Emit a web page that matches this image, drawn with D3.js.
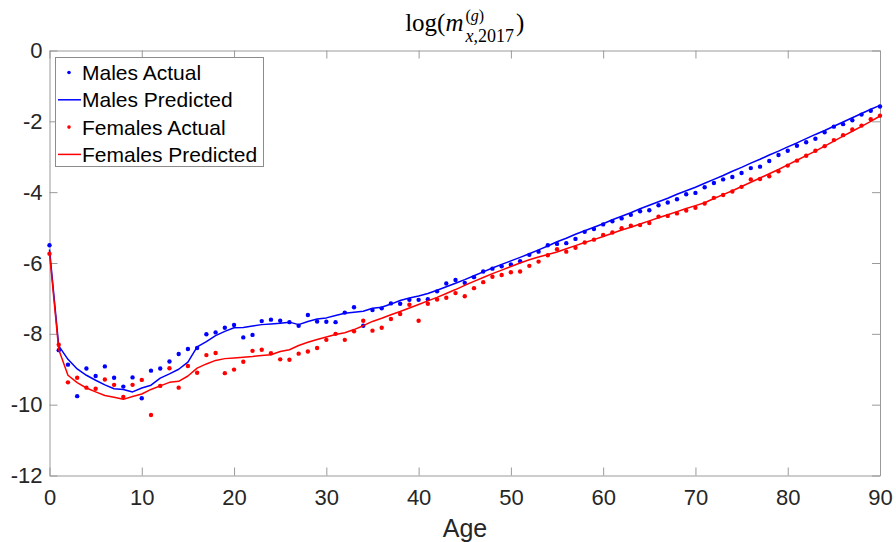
<!DOCTYPE html>
<html>
<head>
<meta charset="utf-8">
<script src="https://cdn.jsdelivr.net/npm/d3@7"></script>
<style>
  body { margin: 0; background: #fff; }
  svg text { font-family: "Liberation Sans", Arial, sans-serif; }
</style>
</head>
<body>
<div id="chart"></div>
<script>
// ages 0..90
const ages = d3.range(0, 91);

const malesActual = [
  -5.50, -8.46, -8.87, -9.76, -8.98, -9.19, -8.92, -9.24, -9.49, -9.23,
  -9.82, -9.04, -8.98, -8.78, -8.57, -8.43, -8.40, -8.01, -7.96, -7.83,
  -7.75, -8.10, -8.03, -7.64, -7.60, -7.63, -7.67, -7.77, -7.47, -7.65,
  -7.66, -7.67, -7.40, -7.25, -7.77, -7.33, -7.28, -7.14, -7.15, -7.04,
  -7.04, -7.02, -6.80, -6.58, -6.48, -6.56, -6.40, -6.24, -6.16, -6.09,
  -6.04, -5.95, -5.77, -5.68, -5.50, -5.46, -5.44, -5.32, -5.12, -5.04,
  -4.91, -4.82, -4.74, -4.64, -4.54, -4.51, -4.37, -4.29, -4.20, -4.06,
  -4.02, -3.86, -3.74, -3.64, -3.57, -3.46, -3.32, -3.28, -3.12, -2.95,
  -2.83, -2.69, -2.59, -2.49, -2.31, -2.15, -2.08, -1.97, -1.81, -1.70,
  -1.58
];

const malesPredicted = [
  -5.62, -8.34, -8.72, -8.99, -9.17, -9.31, -9.44, -9.55, -9.57, -9.64,
  -9.53, -9.45, -9.25, -9.13, -9.00, -8.80, -8.37, -8.22, -8.05, -7.93,
  -7.83, -7.82, -7.78, -7.74, -7.72, -7.70, -7.67, -7.74, -7.65, -7.58,
  -7.55, -7.48, -7.42, -7.39, -7.36, -7.28, -7.25, -7.16, -7.06, -6.99,
  -6.93, -6.86, -6.77, -6.67, -6.57, -6.47, -6.36, -6.25, -6.14, -6.04,
  -5.94, -5.84, -5.74, -5.63, -5.52, -5.40, -5.30, -5.19, -5.09, -4.99,
  -4.89, -4.78, -4.68, -4.58, -4.47, -4.37, -4.27, -4.17, -4.06, -3.96,
  -3.86, -3.75, -3.64, -3.53, -3.41, -3.30, -3.18, -3.07, -2.95, -2.84,
  -2.72, -2.61, -2.49, -2.37, -2.26, -2.14, -2.02, -1.90, -1.78, -1.66,
  -1.55
];

const femalesActual = [
  -5.74, -8.31, -9.37, -9.24, -9.52, -9.55, -9.29, -9.44, -9.78, -9.44,
  -9.30, -10.29, -9.47, -8.97, -9.52, -8.91, -9.10, -8.60, -8.54, -9.11,
  -9.01, -8.79, -8.48, -8.45, -8.55, -8.72, -8.73, -8.56, -8.50, -8.40,
  -8.17, -8.00, -8.17, -7.93, -7.63, -7.91, -7.83, -7.58, -7.44, -7.18,
  -7.63, -7.15, -7.03, -6.98, -6.85, -6.94, -6.71, -6.54, -6.39, -6.34,
  -6.26, -6.24, -6.08, -5.96, -5.78, -5.61, -5.68, -5.57, -5.42, -5.34,
  -5.21, -5.14, -5.02, -4.95, -4.93, -4.87, -4.69, -4.67, -4.60, -4.52,
  -4.44, -4.32, -4.16, -4.08, -3.98, -3.85, -3.64, -3.63, -3.55, -3.41,
  -3.25, -3.11, -2.97, -2.83, -2.70, -2.53, -2.39, -2.23, -2.12, -1.94,
  -1.84
];

const femalesPredicted = [
  -5.72, -8.44, -9.17, -9.38, -9.53, -9.64, -9.74, -9.79, -9.85, -9.77,
  -9.70, -9.57, -9.47, -9.37, -9.34, -9.19, -8.97, -8.85, -8.75, -8.70,
  -8.68, -8.66, -8.64, -8.61, -8.59, -8.50, -8.45, -8.33, -8.24, -8.16,
  -8.09, -8.02, -7.97, -7.88, -7.77, -7.65, -7.56, -7.46, -7.37, -7.27,
  -7.17, -7.07, -6.97, -6.86, -6.75, -6.63, -6.52, -6.41, -6.30, -6.20,
  -6.10, -6.00, -5.91, -5.83, -5.76, -5.69, -5.60, -5.51, -5.42, -5.34,
  -5.25, -5.16, -5.07, -4.99, -4.90, -4.81, -4.72, -4.64, -4.55, -4.46,
  -4.38, -4.30, -4.18, -4.07, -3.96, -3.84, -3.72, -3.60, -3.48, -3.36,
  -3.23, -3.10, -2.97, -2.84, -2.70, -2.56, -2.42, -2.28, -2.14, -2.00,
  -1.85
];

const xTicks = [0, 10, 20, 30, 40, 50, 60, 70, 80, 90];
const yTicks = [0, -2, -4, -6, -8, -10, -12];

const legendItems = [
  { label: 'Males Actual', color: '#0000ff', type: 'dot' },
  { label: 'Males Predicted', color: '#0000ff', type: 'line' },
  { label: 'Females Actual', color: '#ff0000', type: 'dot' },
  { label: 'Females Predicted', color: '#ff0000', type: 'line' },
];

const width = 896, height = 542;
const plotLeft = 49.5, plotRight = 880, plotTop = 50.5, plotBottom = 475.5;
const axisColor = '#9a9a9a';
const textColor = '#262626';

const svg = d3.select('#chart').append('svg')
  .attr('width', width)
  .attr('height', height);

const x = d3.scaleLinear().domain([0, 90]).range([plotLeft, plotRight]);
const y = d3.scaleLinear().domain([-12, 0]).range([plotBottom, plotTop]);

// axes (ticks inside the box, MATLAB style)
function styleAxis(g) {
  g.selectAll('path.domain').attr('stroke', axisColor);
  g.selectAll('.tick line').attr('stroke', axisColor);
  g.selectAll('.tick text').attr('fill', textColor).style('font-size', '22px')
    .style('font-family', '"Liberation Sans", Arial, sans-serif');
}

svg.append('g')
  .attr('transform', `translate(0,${plotBottom})`)
  .call(d3.axisBottom(x).tickValues(xTicks).tickSize(-8).tickSizeOuter(0).tickPadding(14).tickFormat(d => String(d)))
  .call(styleAxis);

svg.append('g')
  .attr('transform', `translate(0,${plotTop})`)
  .call(d3.axisTop(x).tickValues(xTicks).tickSize(-8).tickSizeOuter(0).tickFormat(''))
  .call(styleAxis);

svg.append('g')
  .attr('transform', `translate(${plotLeft},0)`)
  .call(d3.axisLeft(y).tickValues(yTicks).tickSize(-8).tickSizeOuter(0).tickPadding(7).tickFormat(d => String(d)))
  .call(styleAxis);

svg.append('g')
  .attr('transform', `translate(${plotRight},0)`)
  .call(d3.axisRight(y).tickValues(yTicks).tickSize(-8).tickSizeOuter(0).tickFormat(''))
  .call(styleAxis);

// x label
svg.append('text')
  .attr('x', 465)
  .attr('y', 537)
  .attr('text-anchor', 'middle')
  .attr('fill', textColor)
  .style('font-size', '25px')
  .text('Age');

// series
const line = d3.line()
  .x((d, i) => x(ages[i]))
  .y(d => y(d));

function drawLine(values, color) {
  svg.append('path')
    .datum(values)
    .attr('fill', 'none')
    .attr('stroke', color)
    .attr('stroke-width', 1.5)
    .attr('stroke-linejoin', 'round')
    .attr('d', line);
}

function drawDots(values, color) {
  svg.append('g').selectAll('circle')
    .data(values)
    .enter()
    .append('circle')
    .attr('cx', (d, i) => x(ages[i]))
    .attr('cy', d => y(d))
    .attr('r', 2.2)
    .attr('fill', color);
}

drawDots(malesActual, '#0000ff');
drawLine(malesPredicted, '#0000ff');
drawDots(femalesActual, '#ff0000');
drawLine(femalesPredicted, '#ff0000');

// legend
const lg = svg.append('g');
lg.append('rect')
  .attr('x', 55.5).attr('y', 57.5)
  .attr('width', 208).attr('height', 109)
  .attr('fill', '#fff')
  .attr('stroke', '#8c8c8c')
  .attr('stroke-width', 1);

legendItems.forEach((item, i) => {
  const cy = 72.5 + i * 27.3;
  if (item.type === 'dot') {
    lg.append('circle').attr('cx', 69).attr('cy', cy).attr('r', 1.8).attr('fill', item.color);
  } else {
    lg.append('line').attr('x1', 58).attr('x2', 81).attr('y1', cy).attr('y2', cy)
      .attr('stroke', item.color).attr('stroke-width', 1.5);
  }
  lg.append('text')
    .attr('x', 82)
    .attr('y', cy + 7.5)
    .attr('fill', '#000')
    .style('font-size', '21px')
    .text(item.label);
});

// title: log(m_{x,2017}^{(g)})
const tg = svg.append('g').attr('fill', '#000');
const baseSize = 25, supSize = 16, subSize = 18;
const serif = '"Liberation Serif", "DejaVu Serif", serif';

const t1 = tg.append('text').attr('y', 31).style('font-size', baseSize + 'px').style('font-family', serif);
t1.append('tspan').text('log(');
t1.append('tspan').style('font-style', 'italic').text('m');
const w1 = t1.node().getComputedTextLength();

const sup = tg.append('text').attr('y', 21).style('font-size', supSize + 'px').style('font-family', serif);
sup.append('tspan').text('(');
sup.append('tspan').style('font-style', 'italic').text('g');
sup.append('tspan').text(')');

const sub = tg.append('text').attr('y', 42).style('font-size', subSize + 'px').style('font-family', serif);
sub.append('tspan').style('font-style', 'italic').text('x');
sub.append('tspan').text(',2017');

const close = tg.append('text').attr('y', 31).style('font-size', baseSize + 'px').style('font-family', serif).text(')');

const wSup = sup.node().getComputedTextLength();
const wSub = sub.node().getComputedTextLength();
const wScript = Math.max(wSup, wSub);
const wClose = close.node().getComputedTextLength();
const gap = 2;
const total = w1 + gap + wScript + gap + wClose;
const x0 = (plotLeft + plotRight) / 2 - total / 2;
t1.attr('x', x0);
sup.attr('x', x0 + w1 + gap);
sub.attr('x', x0 + w1 + gap);
close.attr('x', x0 + w1 + gap + wScript + gap);
</script>
</body>
</html>
